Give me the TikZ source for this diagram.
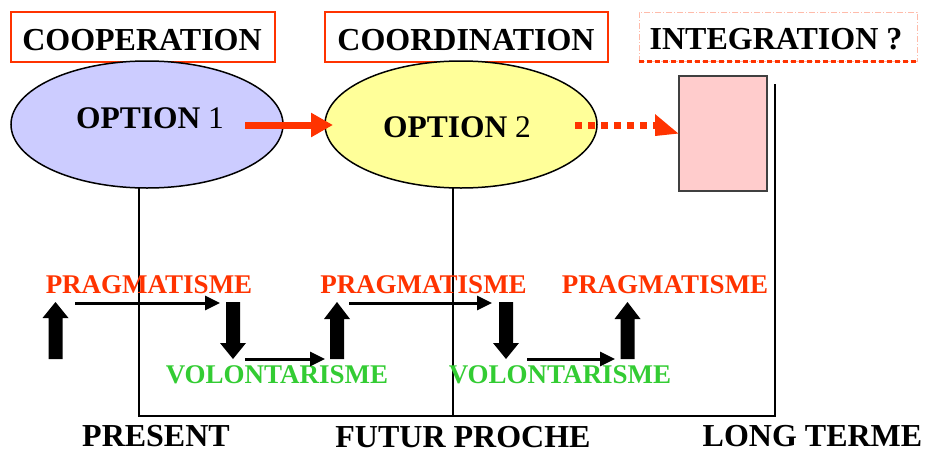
\documentclass[tikz,border=0pt]{standalone}
\usepackage{fontspec}
\setmainfont{Liberation Serif}
\usetikzlibrary{shapes.geometric,arrows.meta}
\definecolor{myred}{HTML}{FF3300}
\definecolor{mygreen}{HTML}{33CC33}
\definecolor{myblue}{HTML}{CCCCFF}
\definecolor{myyellow}{HTML}{FFFF99}
\definecolor{mypink}{HTML}{FFCCCC}
\definecolor{mylightred}{HTML}{FFBBAA}
\newcommand\bigtxt{\fontsize{32}{36}\selectfont\bfseries}
\newcommand\smtxt{\fontsize{27}{30}\selectfont\bfseries}
\newcommand\blockup[5]{% name, xc, tip, base, bottom
  \fill[black] (#2-7,#5) -- (#2-7,#4) -- (#2-13,#4) -- (#2,#3) -- (#2+13,#4) -- (#2+7,#4) -- (#2+7,#5) -- cycle;
  \coordinate (#1) at (#2,#3);}
\newcommand\blockdown[5]{% name, xc, top, base, tip
  \fill[black] (#2-7,#3) -- (#2-7,#4) -- (#2-13,#4) -- (#2,#5) -- (#2+13,#4) -- (#2+7,#4) -- (#2+7,#3) -- cycle;
  \coordinate (#1) at (#2,#5);}
\tikzset{
  titlebox/.style={draw=myred, line width=1.6pt, minimum width=#1, minimum height=50pt, inner sep=0pt},
  opt/.style={ellipse, draw=black, line width=1.5pt, minimum width=272pt, minimum height=127pt, inner sep=0pt},
  lbl/.style={anchor=base, inner sep=0pt},
  prag/.style={lbl, text=myred, font=\smtxt},
  volo/.style={lbl, text=mygreen, font=\smtxt},
  big/.style={lbl, font=\bigtxt},
  bottomlbl/.style={big, text depth=0pt},
  thinarr/.style={line width=3pt, -{Triangle[length=15pt,width=14pt]}},
  timeline/.style={line width=1.4pt}
}
\begin{document}
\begin{tikzpicture}[x=1pt,y=-1pt]
\useasboundingbox (0,0) rectangle (927,453);
% title boxes
\node[titlebox=264pt] (coopbox) at (143,37) {};
\node[big] (coop) at (142,50) {COOPERATION};
\node[titlebox=283pt] (coorbox) at (466.5,37) {};
\node[big] (coor) at (466,50) {COORDINATION};
\node[draw=mylightred, line width=0.8pt, dash pattern=on 6pt off 2pt on 1pt off 2pt, minimum width=278pt, minimum height=49pt, inner sep=0pt] (intbox) at (778,36.5) {};
\draw[myred, line width=2.2pt, dash pattern=on 5pt off 3pt] (intbox.south west) -- (intbox.south east);
\node[big] (integ) at (776,49) {INTEGRATION ?};
% ellipses
\node[opt, fill=myblue] (e1) at (147,124.5) {};
\node[opt, fill=myyellow] (e2) at (461,124.5) {};
\node[lbl, font=\fontsize{31.5}{36}\selectfont] (o1) at (150,128) {\textbf{OPTION} 1};
\node[lbl, font=\fontsize{31.5}{36}\selectfont] (o2) at (457,137) {\textbf{OPTION} 2};
% pink box
\node[draw=black!75, fill=mypink, line width=1.4pt, minimum width=88pt, minimum height=115pt, inner sep=0pt] (integr) at (723,133.5) {};
% red arrows
\coordinate (r1s) at (245,125);
\coordinate (r2s) at (575,125);
\draw[myred, line width=7pt, -{Triangle[length=22pt,width=23pt]}] (r1s) -- (333,125) coordinate (r1e);
\draw[myred, line width=7pt, dash pattern=on 7pt off 6pt] (r2s) -- (657,125);
\fill[myred] (655,114) -- (integr.west) -- (655,136) -- cycle;
% timeline frame
\coordinate (t1) at (139,188);
\coordinate (t2) at (453,188);
\coordinate (t3) at (775,84);
\draw[timeline] (t1) -- (139,416) -- (775,416) -- (t3);
\draw[timeline] (t2) -- (453,416);
% labels
\node[prag] (p1) at (149,293) {PRAGMATISME};
\node[prag] (p2) at (423.5,293) {PRAGMATISME};
\node[prag] (p3) at (665,293) {PRAGMATISME};
\node[volo] (v1) at (277,383) {VOLONTARISME};
\node[volo] (v2) at (560,383) {VOLONTARISME};
% block arrows
\blockup{u1}{55.5}{302}{318}{359}
\blockdown{d1}{233}{302}{343}{359}
\blockup{u2}{337}{302}{319}{359}
\blockdown{d2}{506}{302}{343}{359}
\blockup{u3}{627.5}{302}{319}{359}
% thin arrows
\coordinate (a1s) at (75,303);   \coordinate (a1e) at (220,303);
\coordinate (a2s) at (245,359);  \coordinate (a2e) at (325,359);
\coordinate (a3s) at (349,303);  \coordinate (a3e) at (492,303);
\coordinate (a4s) at (527,359);  \coordinate (a4e) at (615,359);
\draw[thinarr] (a1s) -- (a1e);
\draw[thinarr] (a2s) -- (a2e);
\draw[thinarr] (a3s) -- (a3e);
\draw[thinarr] (a4s) -- (a4e);
% bottom labels
\node[bottomlbl] (present) at (156,446) {PRESENT};
\node[bottomlbl] (futur) at (463,447) {FUTUR PROCHE};
\node[bottomlbl] (long) at (812.5,446) {LONG TERME};
\end{tikzpicture}
\end{document}
